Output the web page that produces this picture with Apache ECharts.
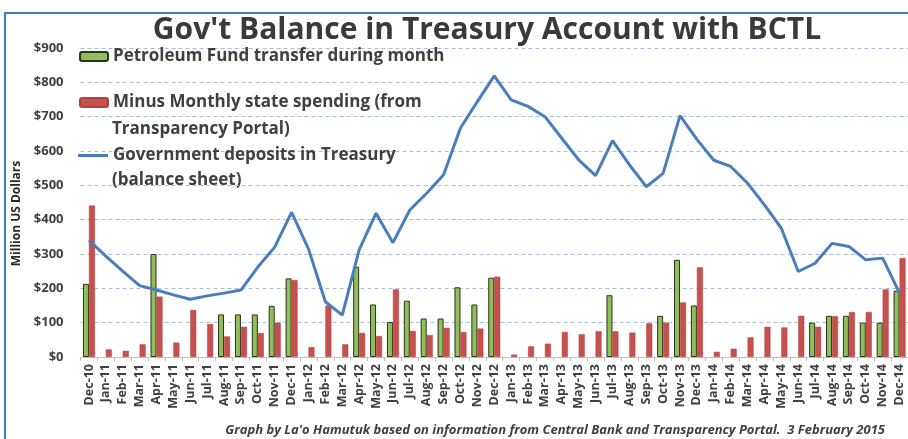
<!DOCTYPE html>
<html>
<head>
<meta charset="utf-8">
<script src="https://cdn.jsdelivr.net/npm/echarts@6/dist/echarts.min.js"></script>
<style>html,body{margin:0;padding:0;background:#fff}#c{width:908px;height:439px}</style>
</head>
<body>
<div id="c"></div>
<script>
const categories = ['Dec-10','Jan-11','Feb-11','Mar-11','Apr-11','May-11','Jun-11','Jul-11','Aug-11','Sep-11','Oct-11','Nov-11','Dec-11',
  'Jan-12','Feb-12','Mar-12','Apr-12','May-12','Jun-12','Jul-12','Aug-12','Sep-12','Oct-12','Nov-12','Dec-12',
  'Jan-13','Feb-13','Mar-13','Apr-13','May-13','Jun-13','Jul-13','Aug-13','Sep-13','Oct-13','Nov-13','Dec-13',
  'Jan-14','Feb-14','Mar-14','Apr-14','May-14','Jun-14','Jul-14','Aug-14','Sep-14','Oct-14','Nov-14','Dec-14'];
const petroleumFund = [213,null,null,null,300,null,null,null,124,124,124,149,229,
  null,null,null,263,153,102,164,112,112,203,153,231,
  null,null,null,null,null,null,180,null,null,120,283,150,
  null,null,null,null,null,null,100,120,120,100,100,193];
const stateSpending = [441,22,18,37,176,42,137,96,60,88,70,100,224,
  29,150,37,70,61,197,76,64,85,73,83,234,
  7,31,39,73,66,75,75,71,98,100,159,261,
  15,24,57,88,86,120,88,119,131,131,197,288];
const govDeposits = [340,294,250,208,195,181,168,178,186,195,262,320,421,
  315,161,122,312,419,333,428,477,531,667,744,819,
  749,730,700,637,574,528,630,560,496,535,703,634,
  573,555,506,443,375,249,273,331,322,283,288,186];
const yTicks = [0,100,200,300,400,500,600,700,800,900];

const nameA = 'Petroleum Fund transfer during month';
const nameB = 'Minus Monthly state spending (from\nTransparency Portal)';
const nameC = 'Government deposits in Treasury\n(balance sheet)';
const FONT = '"Open Sans", sans-serif';
const TXT = '#404040';
const legendText = {fontFamily: FONT, fontSize: 17, fontWeight: 'bold', color: TXT};
const firstLine = n => n.split('\n')[0];
const secondLine = n => n.split('\n')[1];

const chart = echarts.init(document.getElementById('c'), null, {renderer: 'canvas'});
chart.setOption({
  animation: false,
  backgroundColor: '#fff',
  title: [
    {text: "Gov't Balance in Treasury Account with BCTL", left: 482, top: 10, textAlign: 'center',
     textStyle: {fontFamily: FONT, fontSize: 30, fontWeight: 'bold', color: '#3a3a3a'}},
    {text: "Graph by La'o Hamutuk based on information from Central Bank and Transparency Portal.  3 February 2015",
     right: 18, bottom: -3,
     textStyle: {fontFamily: FONT, fontSize: 13, fontWeight: 'bold', fontStyle: 'italic', color: TXT}}
  ],
  graphic: [
    {type: 'rect', shape: {x: 5, y: 13, width: 1000, height: 1000}, style: {fill: 'none', stroke: '#3b7fc4', lineWidth: 2}, silent: true},
    {type: 'text', left: 112, top: 121, silent: true,
     style: {text: secondLine(nameB), font: 'bold 17px "Open Sans", sans-serif', fill: TXT}},
    {type: 'text', left: 112, top: 172, silent: true,
     style: {text: secondLine(nameC), font: 'bold 17px "Open Sans", sans-serif', fill: TXT}}
  ],
  legend: [
    {data: [nameA], left: 79, top: 48, padding: 0, itemWidth: 28, itemHeight: 9, textStyle: legendText, formatter: firstLine},
    {data: [nameB], left: 79, top: 94, padding: 0, itemWidth: 28, itemHeight: 9, textStyle: legendText, formatter: firstLine},
    {data: [{name: nameC, icon: 'rect'}], left: 78, top: 147, padding: 0, itemWidth: 30, itemHeight: 3, textStyle: legendText, formatter: firstLine}
  ],
  grid: {left: 80.5, right: -5.5, top: 48, bottom: 82},
  xAxis: {
    type: 'category', data: categories, boundaryGap: true,
    axisLine: {lineStyle: {color: '#bfbfbf'}},
    axisTick: {show: true, interval: 0, lineStyle: {color: '#bfbfbf'}, length: 4},
    axisLabel: {interval: 0, rotate: 90, margin: 7, fontFamily: FONT, fontSize: 12.5, fontWeight: 'bold', color: TXT}
  },
  yAxis: {
    type: 'value', min: 0, max: 900, interval: 100,
    name: 'Million US Dollars', nameLocation: 'middle', nameGap: 55, nameRotate: 90,
    nameTextStyle: {fontFamily: FONT, fontSize: 12, fontWeight: 'bold', color: '#262626', padding: [0, 22, 0, 0]},
    axisLine: {show: false}, axisTick: {show: false},
    axisLabel: {margin: 17, fontFamily: FONT, fontSize: 13, fontWeight: 'bold', color: TXT,
      formatter: v => yTicks.indexOf(v) >= 0 ? '$' + v : ''},
    splitLine: {lineStyle: {color: '#a9bfd6', type: [4, 3], width: 1}}
  },
  series: [
    {name: nameA, type: 'bar', data: petroleumFund, barWidth: 6, barGap: '0%',
     itemStyle: {color: '#8fbe5b', borderColor: '#2a331c', borderWidth: 1}},
    {name: nameB, type: 'bar', data: stateSpending, barWidth: 6, barGap: '0%',
     itemStyle: {color: '#c6504e', borderColor: '#b0403e', borderWidth: 0.5}},
    {name: nameC, type: 'line', data: govDeposits, symbol: 'none', z: 5,
     lineStyle: {color: '#4a7ebb', width: 3}, itemStyle: {color: '#4a7ebb'}}
  ]
});
</script>
</body>
</html>
